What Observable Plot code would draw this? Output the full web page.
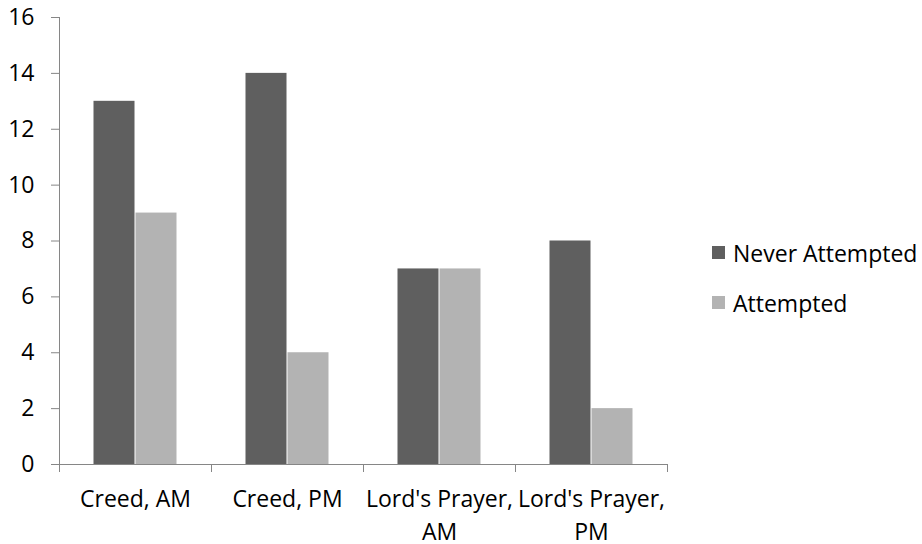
<!DOCTYPE html>
<html>
<head>
<meta charset="utf-8">
<script src="https://cdn.jsdelivr.net/npm/d3@7"></script>
<script src="https://cdn.jsdelivr.net/npm/@observablehq/plot@0.6"></script>
<style>
  html, body { margin: 0; padding: 0; background: #fff; }
  #wrap { position: relative; width: 922px; height: 544px; font-family: "Open Sans", sans-serif; }
  #legend { position: absolute; left: 712px; top: 236px; font-size: 23px; color: #000; }
  #legend .item { display: flex; align-items: center; height: 33px; margin-bottom: 17px; white-space: nowrap; }
  #legend .sw { width: 13px; height: 13px; margin-right: 8px; }
</style>
</head>
<body>
<div id="wrap"><div id="legend"></div></div>
<script>
// Recitation survey: counts per prayer and service
const categories = ["Creed, AM", "Creed, PM", "Lord's Prayer, AM", "Lord's Prayer, PM"];
const categoryLabels = ["Creed, AM", "Creed, PM", "Lord's Prayer,\nAM", "Lord's Prayer,\nPM"];
const series = ["Never Attempted", "Attempted"];
const neverAttempted = [13, 14, 7, 8];
const attempted = [9, 4, 7, 2];
const yTicks = [0, 2, 4, 6, 8, 10, 12, 14, 16];
const colors = ["#5f5f5f", "#b3b3b3"];

const rows = categories.flatMap((c, i) => [
  {category: c, series: series[0], value: neverAttempted[i]},
  {category: c, series: series[1], value: attempted[i]}
]);
const labelOf = new Map(categories.map((c, i) => [c, categoryLabels[i]]));
const axisColor = "#868686";

const chart = Plot.plot({
  width: 922,
  height: 544,
  marginLeft: 57,
  marginRight: 254,
  marginTop: 17,
  marginBottom: 80,
  style: {fontFamily: "Open Sans, sans-serif", fontSize: "23px", color: "#000", background: "#fff", overflow: "visible"},
  fx: {domain: categories, padding: 0, axis: null},
  x: {domain: series, paddingInner: 0, paddingOuter: 0.78, axis: null},
  y: {domain: [0, 16], axis: null},
  color: {domain: series, range: colors},
  marks: [
    Plot.barY(rows, {fx: "category", x: "series", y: "value", fill: "series", insetLeft: 0.5, insetRight: 0.5}),
    Plot.ruleY([0], {stroke: axisColor}),
    Plot.axisY({ticks: yTicks, label: null, tickSize: 8, tickPadding: 17, stroke: axisColor, fill: "#000", fontSize: 23}),
    // vertical axis line and the tick marks at the category boundaries
    Plot.frame({
      facet: "super",
      render(index, scales) {
        const {fx, y} = scales;
        const bw = fx.bandwidth();
        const edges = [...categories.map((c) => fx(c)), fx(categories[categories.length - 1]) + bw];
        const g = d3.create("svg:g").attr("stroke", axisColor).attr("stroke-width", 1);
        g.append("line")
          .attr("x1", Math.round(edges[0]) + 0.5).attr("x2", Math.round(edges[0]) + 0.5)
          .attr("y1", y(16)).attr("y2", y(0));
        g.selectAll("line.edge").data(edges).join("line").attr("class", "edge")
          .attr("x1", (d) => Math.round(d) + 0.5).attr("x2", (d) => Math.round(d) + 0.5)
          .attr("y1", y(0)).attr("y2", y(0) + 8);
        return g.node();
      }
    }),
    Plot.text(categories, {
      fx: (d) => d,
      frameAnchor: "bottom",
      text: (d) => labelOf.get(d),
      lineAnchor: "top",
      lineHeight: 1.43,
      dy: 19,
      fill: "#000",
      fontSize: 23
    })
  ]
});
document.getElementById("wrap").prepend(chart);

// legend
const legend = d3.select("#legend");
series.forEach((s, i) => {
  const item = legend.append("div").attr("class", "item");
  item.append("div").attr("class", "sw").style("background", colors[i]);
  item.append("span").text(s);
});
</script>
</body>
</html>
